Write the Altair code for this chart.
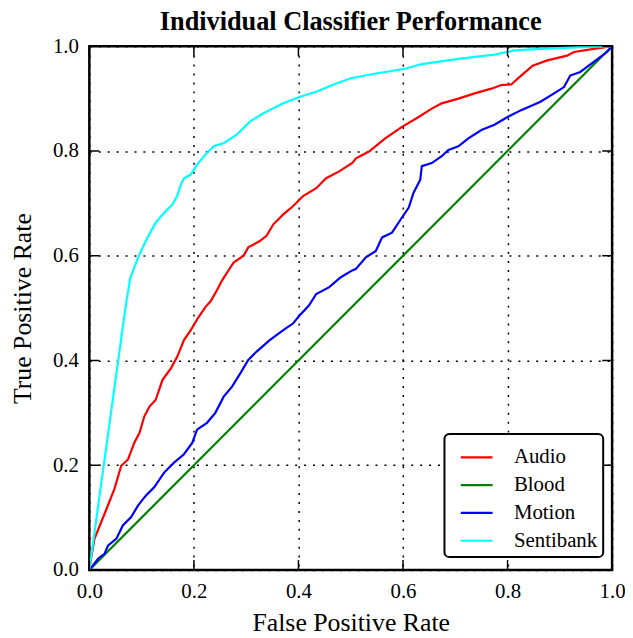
import altair as alt
import pandas as pd

series_names = ["Audio", "Blood", "Motion", "Sentibank"]
series_colors = ["#ff0000", "#008000", "#0000ff", "#00ffff"]

audio_fpr = [0.0, 0.001, 0.010, 0.020, 0.033, 0.048, 0.061, 0.074, 0.086, 0.096, 0.105, 0.115, 0.127, 0.140, 0.156, 0.168, 0.181, 0.194, 0.209, 0.222, 0.232, 0.244, 0.254, 0.270, 0.276, 0.295, 0.304, 0.326, 0.339, 0.352, 0.371, 0.390, 0.409, 0.434, 0.453, 0.478, 0.503, 0.510, 0.535, 0.566, 0.598, 0.630, 0.655, 0.674, 0.706, 0.737, 0.769, 0.788, 0.807, 0.826, 0.848, 0.876, 0.914, 0.927, 0.965, 1.0]
audio_tpr = [0.0, 0.009, 0.060, 0.085, 0.117, 0.155, 0.199, 0.211, 0.243, 0.262, 0.293, 0.312, 0.325, 0.363, 0.385, 0.407, 0.439, 0.458, 0.483, 0.502, 0.513, 0.534, 0.553, 0.578, 0.587, 0.600, 0.616, 0.628, 0.638, 0.660, 0.679, 0.695, 0.714, 0.729, 0.748, 0.761, 0.777, 0.786, 0.799, 0.824, 0.846, 0.865, 0.881, 0.891, 0.900, 0.910, 0.919, 0.926, 0.927, 0.944, 0.963, 0.973, 0.982, 0.989, 0.995, 1.0]

blood_fpr = [0.0, 1.0]
blood_tpr = [0.0, 1.0]

motion_fpr = [0.0, 0.017, 0.029, 0.036, 0.052, 0.064, 0.080, 0.093, 0.108, 0.124, 0.143, 0.162, 0.181, 0.197, 0.206, 0.225, 0.241, 0.257, 0.273, 0.289, 0.304, 0.320, 0.345, 0.371, 0.390, 0.402, 0.420, 0.434, 0.459, 0.481, 0.503, 0.510, 0.529, 0.548, 0.560, 0.579, 0.598, 0.611, 0.620, 0.633, 0.636, 0.655, 0.674, 0.687, 0.706, 0.725, 0.750, 0.775, 0.800, 0.826, 0.863, 0.889, 0.908, 0.920, 0.939, 0.965, 0.990, 1.0]
motion_tpr = [0.0, 0.022, 0.031, 0.047, 0.060, 0.085, 0.101, 0.123, 0.142, 0.158, 0.186, 0.205, 0.221, 0.243, 0.268, 0.281, 0.300, 0.331, 0.350, 0.376, 0.401, 0.417, 0.439, 0.458, 0.471, 0.486, 0.505, 0.527, 0.540, 0.559, 0.572, 0.575, 0.597, 0.609, 0.635, 0.644, 0.673, 0.692, 0.720, 0.745, 0.771, 0.777, 0.790, 0.802, 0.809, 0.824, 0.840, 0.850, 0.865, 0.878, 0.894, 0.910, 0.922, 0.944, 0.951, 0.970, 0.989, 1.0]

senti_fpr = [0.0, 0.069, 0.078, 0.086, 0.096, 0.108, 0.118, 0.127, 0.143, 0.159, 0.168, 0.175, 0.181, 0.194, 0.206, 0.222, 0.238, 0.257, 0.282, 0.307, 0.333, 0.371, 0.402, 0.434, 0.465, 0.500, 0.548, 0.604, 0.636, 0.706, 0.775, 0.813, 0.863, 0.927, 1.0]
senti_tpr = [0.0, 0.500, 0.556, 0.578, 0.603, 0.628, 0.647, 0.663, 0.682, 0.698, 0.714, 0.736, 0.748, 0.755, 0.774, 0.793, 0.809, 0.815, 0.831, 0.856, 0.872, 0.891, 0.903, 0.913, 0.926, 0.939, 0.948, 0.957, 0.966, 0.976, 0.984, 0.992, 0.995, 0.998, 1.0]

tick_values = [0.0, 0.2, 0.4, 0.6, 0.8, 1.0]

rows = []
for name, fx, fy in [("Audio", audio_fpr, audio_tpr), ("Blood", blood_fpr, blood_tpr),
                     ("Motion", motion_fpr, motion_tpr), ("Sentibank", senti_fpr, senti_tpr)]:
    for i, (a, b) in enumerate(zip(fx, fy)):
        rows.append({"series": name, "fpr": a, "tpr": b, "idx": i})
df = pd.DataFrame(rows)
ticks_df = pd.DataFrame({"t": tick_values})

W, H = 527, 528
FONT = "Liberation Serif"
TL = 10

xscale = alt.Scale(domain=[0, 1], nice=False)
yscale = alt.Scale(domain=[0, 1], nice=False)

lines = alt.Chart(df).mark_line(strokeWidth=2.2, clip=True).encode(
    x=alt.X("fpr:Q", scale=xscale, title="False Positive Rate",
            axis=alt.Axis(values=tick_values, format=".1f", grid=True, labelFlush=False,
                          labelPadding=11, titlePadding=8)),
    y=alt.Y("tpr:Q", scale=yscale, title="True Positive Rate",
            axis=alt.Axis(values=tick_values, format=".1f", grid=True, labelFlush=False,
                          labelPadding=11, titlePadding=17)),
    color=alt.Color("series:N",
                    scale=alt.Scale(domain=series_names, range=series_colors),
                    legend=alt.Legend(title=None, orient="none", legendX=358, legendY=391,
                                      symbolType="stroke", symbolSize=1024, symbolStrokeWidth=2.2,
                                      symbolOffset=9,
                                      labelFont=FONT, labelFontSize=21, labelColor="black",
                                      labelOffset=20, rowPadding=0,
                                      fillColor="white", strokeColor="black",
                                      padding=6)),
    order="idx:Q",
)

xb = alt.Chart(ticks_df).mark_rule(color="black", strokeWidth=1.5).encode(
    x=alt.X("t:Q", scale=xscale), y=alt.value(H), y2=alt.value(H - TL))
xt = alt.Chart(ticks_df).mark_rule(color="black", strokeWidth=1.5).encode(
    x=alt.X("t:Q", scale=xscale), y=alt.value(0), y2=alt.value(TL))
yl = alt.Chart(ticks_df).mark_rule(color="black", strokeWidth=1.5).encode(
    y=alt.Y("t:Q", scale=yscale), x=alt.value(0), x2=alt.value(TL))
yr = alt.Chart(ticks_df).mark_rule(color="black", strokeWidth=1.5).encode(
    y=alt.Y("t:Q", scale=yscale), x=alt.value(W), x2=alt.value(W - TL))

chart = alt.layer(lines, xb, xt, yl, yr).properties(
    width=W, height=H,
    title=alt.TitleParams("Individual Classifier Performance", font=FONT, fontSize=26.5,
                          fontWeight="bold", color="black", offset=0),
    autosize=alt.AutoSizeParams(type="none"),
    padding={"left": 82, "top": 36, "right": 13, "bottom": 66},
).configure_view(stroke="black", strokeWidth=2.5).configure_axis(
    domain=False, ticks=False, grid=True, gridColor="black", gridDash=[2, 7], gridWidth=1.5,
    labelFont=FONT, labelFontSize=21, labelColor="black",
    titleFont=FONT, titleFontSize=26, titleFontWeight="normal", titleColor="black",
).configure_legend(strokeWidth=2, cornerRadius=5)

chart.save("out.html", embed_options={"renderer": "svg", "actions": False})
